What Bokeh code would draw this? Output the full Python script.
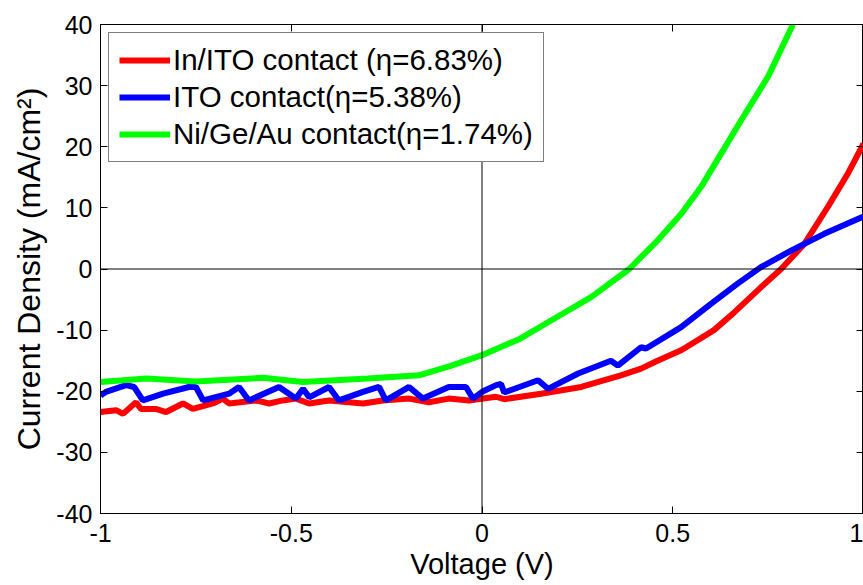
from bokeh.plotting import figure
from bokeh.models import LinearAxis, FixedTicker, Span, CustomLabelingPolicy
from bokeh.embed import file_html
from bokeh.resources import INLINE

# ---- data ----
v_in_ito = [-1.0, -0.959, -0.941, -0.907, -0.894, -0.855, -0.828, -0.784, -0.758, -0.705,
            -0.679, -0.663, -0.592, -0.558, -0.522, -0.488, -0.453, -0.401, -0.312, -0.260,
            -0.191, -0.139, -0.087, -0.034, 0.003, 0.037, 0.058, 0.155, 0.26, 0.364,
            0.417, 0.46, 0.522, 0.548, 0.608, 0.661, 0.731, 0.784, 0.845, 0.906, 0.959, 1.0]
j_in_ito = [-23.4, -23.1, -23.7, -21.8, -22.9, -22.9, -23.4, -22.0, -22.9, -22.0,
            -21.2, -22.0, -21.5, -22.0, -21.5, -21.2, -22.0, -21.5, -22.0, -21.5,
            -21.2, -21.8, -21.2, -21.5, -21.2, -20.9, -21.3, -20.4, -19.3, -17.4,
            -16.3, -15.0, -13.3, -12.3, -10.0, -7.1, -3.0, 0.0, 4.1, 10.1, 15.6, 20.5]

v_ito = [-1.0, -0.986, -0.933, -0.912, -0.889, -0.836, -0.768, -0.750, -0.731, -0.663,
         -0.637, -0.611, -0.532, -0.488, -0.469, -0.453, -0.401, -0.375, -0.312, -0.270,
         -0.252, -0.191, -0.155, -0.087, -0.042, -0.024, 0.003, 0.037, 0.05, 0.058,
         0.147, 0.173, 0.252, 0.338, 0.356, 0.417, 0.43, 0.522, 0.600, 0.670,
         0.731, 0.810, 0.897, 1.0]
j_ito = [-20.7, -20.1, -19.0, -19.3, -21.5, -20.4, -19.3, -19.3, -21.5, -20.4,
         -19.3, -21.5, -19.3, -21.2, -19.6, -21.0, -19.3, -21.5, -20.1, -19.3,
         -21.5, -19.3, -21.2, -19.3, -19.3, -21.2, -20.0, -19.0, -18.8, -20.2,
         -18.2, -19.6, -17.1, -15.0, -15.8, -12.8, -13.0, -9.5, -5.7, -2.4,
         0.3, 3.0, 5.75, 8.6]

v_nigeau = [-1.0, -0.88, -0.75, -0.574, -0.47, -0.3, -0.165, -0.08, 0.0, 0.1,
            0.19, 0.286, 0.386, 0.46, 0.522, 0.574, 0.626, 0.679, 0.75, 0.815]
j_nigeau = [-18.5, -17.9, -18.4, -17.8, -18.5, -17.9, -17.4, -15.8, -14.1, -11.4,
            -8.1, -4.6, 0.0, 4.65, 9.0, 13.4, 18.8, 24.3, 31.5, 40.0]

labels = ["In/ITO contact (\u03b7=6.83%)", "ITO contact(\u03b7=5.38%)", "Ni/Ge/Au contact(\u03b7=1.74%)"]
colors = ["#FF0000", "#0000FF", "#00FF00"]

x_ticks = [-1, -0.5, 0, 0.5, 1]
x_tick_labels = ["-1", "-0.5", "0", "0.5", "1"]
y_ticks = [-40, -30, -20, -10, 0, 10, 20, 30, 40]
y_tick_labels = ["-40", "-30", "-20", "-10", "0", "10", "20", "30", "40"]

x_title = "Voltage (V)"
y_title = "Current Density (mA/cm\u00b2)"

FONT = "Liberation Sans"

p = figure(width=863, height=585, x_range=(-1, 1), y_range=(-40, 40),
           output_backend="svg", toolbar_location=None,
           min_border_left=100, min_border_right=0, min_border_top=24, min_border_bottom=72,
           background_fill_color="white", border_fill_color="white")
p.grid.visible = False
p.outline_line_color = "black"
p.outline_line_width = 1

series = [(v_in_ito, j_in_ito), (v_ito, j_ito), (v_nigeau, j_nigeau)]
for (vx, jy), lab, col in zip(series, labels, colors):
    p.line(vx, jy, line_color=col, line_width=6, legend_label=lab)

# zero lines
p.add_layout(Span(location=0, dimension="height", line_color="black", line_width=1))
p.add_layout(Span(location=0, dimension="width", line_color="black", line_width=1))

xa = p.xaxis[0]
xa.ticker = FixedTicker(ticks=x_ticks)
xa.major_label_overrides = {t: s for t, s in zip(x_ticks, x_tick_labels)}
ya = p.yaxis[0]
ya.ticker = FixedTicker(ticks=y_ticks)
ya.major_label_overrides = {t: s for t, s in zip(y_ticks, y_tick_labels)}

for ax in (xa, ya):
    ax.major_tick_in = 7
    ax.major_tick_out = 0
    ax.minor_tick_line_color = None
    ax.axis_line_color = "black"
    ax.major_tick_line_color = "black"
    ax.major_label_text_font = FONT
    ax.major_label_text_font_size = "25px"
    ax.major_label_text_color = "black"
    ax.axis_label_text_font = FONT
    ax.axis_label_text_font_style = "normal"
    ax.axis_label_text_color = "black"

xa.axis_label = x_title
xa.axis_label_text_font_size = "29px"
xa.major_label_standoff = 10
xa.axis_label_standoff = 3
ya.axis_label = y_title
ya.axis_label_text_font_size = "32px"
ya.major_label_standoff = 8
ya.axis_label_standoff = 6

# tick-only axes on the top and right (labels filtered out)
top = LinearAxis(ticker=FixedTicker(ticks=x_ticks), major_label_text_font_size="0px",
                 major_label_policy=CustomLabelingPolicy(code="return []"),
                 major_label_standoff=0, major_tick_in=7, major_tick_out=0,
                 minor_tick_line_color=None, axis_line_color="black",
                 major_tick_line_color="black")
p.add_layout(top, "above")
right = LinearAxis(ticker=FixedTicker(ticks=y_ticks), major_label_text_font_size="0px",
                   major_label_policy=CustomLabelingPolicy(code="return []"),
                   major_label_standoff=0, major_tick_in=7, major_tick_out=0,
                   minor_tick_line_color=None, axis_line_color="black",
                   major_tick_line_color="black")
p.add_layout(right, "right")

lg = p.legend[0]
lg.location = "top_left"
lg.margin = 8
lg.border_line_color = "black"
lg.border_line_width = 1
lg.background_fill_color = "white"
lg.background_fill_alpha = 1.0
lg.label_text_font = FONT
lg.label_text_font_size = "29.5px"
lg.label_text_color = "black"
lg.glyph_width = 51
lg.glyph_height = 30
lg.label_height = 30
lg.label_standoff = 3
lg.spacing = 3
lg.padding = 10

open("out.html", "w").write(file_html(p, INLINE))
